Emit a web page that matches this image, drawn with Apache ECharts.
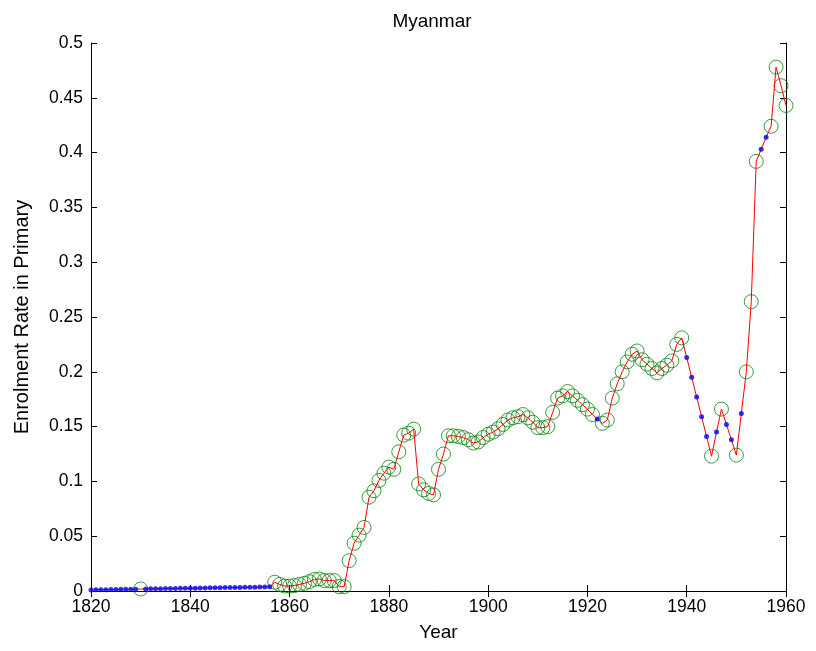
<!DOCTYPE html>
<html>
<head>
<meta charset="utf-8">
<script src="https://cdn.jsdelivr.net/npm/echarts@6/dist/echarts.min.js"></script>
<style>html,body{margin:0;padding:0;background:#fff}#chart{width:816px;height:651px}</style>
</head>
<body>
<div id="chart"></div>
<script>
// Years 1820..1960, one value per year
const firstYear = 1820;
const enrolment = [
  0.0010, 0.0011, 0.0012, 0.0012, 0.0013, 0.0014, 0.0015, 0.0015, 0.0016, 0.0017, // 1820-1829
  0.0018, 0.0019, 0.0020, 0.0020, 0.0021, 0.0022, 0.0023, 0.0023, 0.0024, 0.0025, // 1830-1839
  0.0026, 0.0026, 0.0027, 0.0028, 0.0029, 0.0029, 0.0030, 0.0031, 0.0032, 0.0032, // 1840-1849
  0.0033, 0.0034, 0.0035, 0.0035, 0.0036, 0.0037, 0.0038, 0.0080, 0.0060, 0.0045, // 1850-1859
  0.0045, 0.0050, 0.0060, 0.0070, 0.0085, 0.0105, 0.0110, 0.0095, 0.0095, 0.0095, // 1860-1869
  0.0040, 0.0040, 0.0277, 0.0436, 0.0510, 0.0580, 0.0856, 0.0914, 0.1008, 0.1075, // 1870-1879
  0.1130, 0.1110, 0.1270, 0.1423, 0.1440, 0.1477, 0.0977, 0.0923, 0.0890, 0.0877, // 1880-1889
  0.1110, 0.1250, 0.1416, 0.1416, 0.1410, 0.1400, 0.1380, 0.1350, 0.1360, 0.1400, // 1890-1899
  0.1430, 0.1450, 0.1480, 0.1520, 0.1560, 0.1580, 0.1590, 0.1610, 0.1580, 0.1540, // 1900-1909
  0.1490, 0.1490, 0.1500, 0.1630, 0.1760, 0.1780, 0.1820, 0.1780, 0.1740, 0.1700, // 1910-1919
  0.1660, 0.1610, 0.1570, 0.1530, 0.1560, 0.1760, 0.1890, 0.2000, 0.2090, 0.2160, // 1920-1929
  0.2190, 0.2110, 0.2070, 0.2030, 0.1990, 0.2030, 0.2060, 0.2100, 0.2250, 0.2310, // 1930-1939
  0.2130, 0.1950, 0.1770, 0.1590, 0.1410, 0.1230, 0.1450, 0.1660, 0.1520, 0.1380, // 1940-1949
  0.1240, 0.1620, 0.2000, 0.2640, 0.3920, 0.4030, 0.4140, 0.4240, 0.4780, 0.4610, // 1950-1959
  0.4430                                                                           // 1960
];
// Years whose values are interpolated (drawn as blue dots)
const interpolatedYears = [
  1820, 1821, 1822, 1823, 1824, 1825, 1826, 1827, 1828, 1829,
  1831, 1832, 1833, 1834, 1835, 1836, 1837, 1838, 1839, 1840,
  1841, 1842, 1843, 1844, 1845, 1846, 1847, 1848, 1849, 1850,
  1851, 1852, 1853, 1854, 1855, 1856,
  1922, 1940, 1941, 1942, 1943, 1944, 1946, 1948, 1949, 1951, 1955, 1956
];
const xTicks = [1820, 1840, 1860, 1880, 1900, 1920, 1940, 1960];
const yTicks = [0, 0.05, 0.1, 0.15, 0.2, 0.25, 0.3, 0.35, 0.4, 0.45, 0.5];

const all = enrolment.map((v, i) => [firstYear + i, v]);
const blue = all.filter(p => interpolatedYears.includes(p[0]));
const green = all.filter(p => !interpolatedYears.includes(p[0]));

const font = '"Liberation Sans", Arial, Helvetica, sans-serif';
const axisCommon = {
  axisLine: {show: true, lineStyle: {color: '#000', width: 1}},
  axisTick: {show: true, inside: true, length: 6, lineStyle: {color: '#000'}},
  splitLine: {show: false}
};

const chart = echarts.init(document.getElementById('chart'), null, {renderer: 'canvas'});
chart.setOption({
  animation: false,
  backgroundColor: '#fff',
  title: {text: 'Myanmar', left: 427, top: 7, textAlign: 'center',
    textStyle: {fontFamily: font, fontSize: 19, fontWeight: 'normal', color: '#000'}},
  grid: {left: 91, right: 30, top: 43, bottom: 60, containLabel: false},
  xAxis: [
    Object.assign({type: 'value', min: xTicks[0], max: xTicks[xTicks.length-1], interval: 20,
      name: 'Year', nameLocation: 'middle', nameGap: 32,
      nameTextStyle: {fontFamily: font, fontSize: 19, color: '#000'},
      axisLabel: {fontFamily: font, fontSize: 17.5, color: '#000', margin: 7,
        formatter: v => String(v)}}, axisCommon),
    Object.assign({type: 'value', position: 'top', min: xTicks[0], max: xTicks[xTicks.length-1], interval: 20,
      axisLabel: {show: false}}, axisCommon)
  ],
  yAxis: [
    Object.assign({type: 'value', min: 0, max: 0.5, interval: 0.05,
      name: 'Enrolment Rate in Primary', nameLocation: 'middle', nameGap: 59,
      nameTextStyle: {fontFamily: font, fontSize: 20, color: '#000'},
      axisLabel: {fontFamily: font, fontSize: 17.5, color: '#000', margin: 8,
        formatter: v => String(parseFloat(v.toFixed(2)))}}, axisCommon),
    Object.assign({type: 'value', position: 'right', min: 0, max: 0.5, interval: 0.05,
      axisLabel: {show: false}}, axisCommon)
  ],
  series: [
    {type: 'scatter', data: green, symbol: 'circle', symbolSize: 14, clip: false,
      itemStyle: {color: 'rgba(0,0,0,0)', borderColor: '#0a820a', borderWidth: 1}, z: 2},
    {type: 'line', data: all, showSymbol: false, symbol: 'none', clip: false,
      lineStyle: {color: '#ff0000', width: 1}, z: 3},
    {type: 'scatter', data: blue, symbol: 'circle', symbolSize: 5, clip: false,
      itemStyle: {color: '#0000ff'}, z: 4}
  ]
});
</script>
</body>
</html>
